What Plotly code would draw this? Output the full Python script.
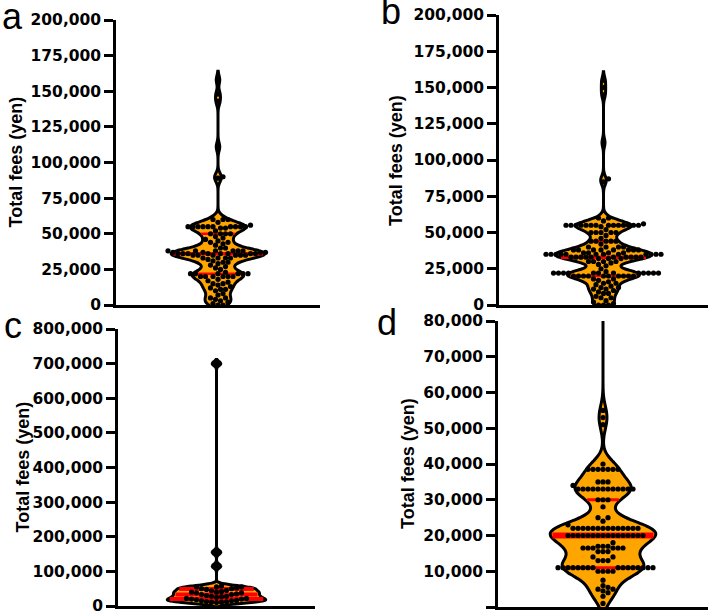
import numpy as np
import plotly.graph_objects as go

fees_a = [0, 0, 1000, 2000, 3000, 4000, 5000, 5000, 7000, 8000, 10000,
          11000, 11000, 12000, 13000, 14000, 15000, 15000, 16000, 17000, 18000,
          20000, 20000, 20000, 20000, 20000, 20000,
          22000, 22000, 22000, 22000, 22000, 22000, 23000,
          25000, 26000, 27000, 28000, 29000, 30000, 30000, 31000, 32000,
          33000, 33000, 33000, 33000,
          35000, 35000, 35000, 35000, 35000, 35000,
          36000, 36000, 36000, 36000, 36000, 36000, 36000, 36000,
          37000, 37000, 37000, 37000, 38000, 38000, 38000, 38000, 38000, 38000,
          40000, 40000, 42000, 43000, 44000, 44000, 45000, 46000, 47000, 48000,
          50000, 50000, 50000, 50000, 52000, 54000, 54000,
          55000, 55000, 55000, 55000, 55000, 55000, 55000, 55000, 55000, 55000,
          56000, 58000, 60000, 60000, 60000,
          89000, 90000, 111000, 143000, 148000, 158000]

fees_b = [0, 0, 0, 1000, 2000, 3000, 5000, 5000, 6000, 8000, 8000, 9000, 10000,
          11000, 11000, 12000, 12000, 13000, 14000, 15000, 15000, 16000, 17000, 18000, 18000,
          20000, 20000, 20000, 20000, 20000, 20000, 20000, 20000, 20000, 20000,
          22000, 22000, 22000, 22000, 22000, 22000, 22000, 22000, 22000, 22000, 22000, 22000,
          23000, 25000, 27000, 28000, 29000, 30000, 30000, 30000, 30000,
          32000, 32000, 32000,
          33000, 33000, 33000, 33000, 33000, 33000, 33000, 33000, 33000, 33000,
          35000, 35000, 35000, 35000, 35000, 35000, 35000, 35000, 35000, 35000, 35000, 35000,
          36000, 36000, 36000, 36000,
          38000, 38000, 38000, 38000, 38000, 38000, 38000, 38000,
          40000, 40000, 40000, 40000, 42000,
          44000, 44000, 44000, 44000, 44000, 46000, 48000,
          50000, 50000, 50000, 50000, 50000, 52000, 54000,
          55000, 55000, 55000, 55000, 55000, 55000, 55000, 55000, 55000, 55000, 55000, 55000, 55000, 55000,
          56000, 58000, 60000, 60000, 85000, 87000, 112000, 145000, 150000, 155000]

fees_c = [10000, 11000, 11000, 12000, 13000, 15000, 15000, 16000, 18000, 20000, 20000,
          22000, 22000, 25000, 27000, 28000, 28000, 30000, 33000, 33000, 35000,
          38000, 38000, 40000, 40000, 42000, 44000, 45000, 48000, 50000, 50000,
          52000, 55000, 55000, 55000, 58000, 115000, 155000, 700000]

fees_d = [1000, 3000, 4000, 4500, 5000, 5000, 5500, 6000, 7500,
          10000, 10000, 10000, 10000,
          11000, 11000, 11000, 11000, 11000, 11000, 11000, 11000,
          11000, 11000, 11000, 11000, 11000, 11000, 11000, 11000,
          13000, 13000, 13000, 14000, 14000, 15500, 15500, 15500,
          16500, 16500, 16500, 16500, 16500, 16500, 17000, 17000, 17000, 18000,
          20000, 20000, 20000, 20000, 20000, 20000, 20000, 20000,
          20000, 20000, 20000, 20000, 20000, 20000, 20000, 20000,
          22000, 22000, 22000, 22000, 22000, 22000, 22000,
          22000, 22000, 22000, 22000, 22000, 22000, 22000,
          23000, 24000, 25000, 25000, 28000, 30000, 30000, 30000,
          33000, 33000, 33000, 33000, 33000, 33000, 33000, 33000, 33000, 33000, 33000, 33000,
          34000, 35000, 35000, 35000,
          38500, 38500, 38500, 38500, 38500, 38500, 38500, 40000,
          51000, 53000, 55000, 95000]

W, H = 708, 616
ORANGE = "#FFA500"

# panel layout: pixel boxes of each plot area (left, right, top, bottom)
panels = [
    dict(letter="a", vals=fees_a, ymax=200000, dtick=25000, bw=3000, width=0.92,
         box=(116, 320, 20, 305), title_x=15, letter_xy=(12, 16), med=3.5, qw=2.5),
    dict(letter="b", vals=fees_b, ymax=200000, dtick=25000, bw=2900, width=0.92,
         box=(499, 708, 15, 305), title_x=396, letter_xy=(391, 12), med=3.5, qw=2.5),
    dict(letter="c", vals=fees_c, ymax=800000, dtick=100000, bw=6000, width=1.0,
         box=(118, 315, 329, 606), title_x=22, letter_xy=(13, 325), med=4, qw=4),
    dict(letter="d", vals=fees_d, ymax=80000, dtick=10000, bw=2600, width=1.0,
         box=(498, 708, 321, 607), title_x=408, letter_xy=(387, 322), med=6, qw=3),
]


def kde(vals, bw, t):
    v = np.asarray(vals, float)
    z = (np.atleast_1d(t)[:, None] - v[None, :]) / bw
    return np.exp(-0.5 * z * z).sum(1) / (len(v) * bw * np.sqrt(2 * np.pi))


def half_width(vals, bw, width, y):
    # same grid / scaling plotly uses for a violin with a fixed width
    lo, hi = min(vals) - 2 * bw, max(vals) + 2 * bw
    n = int(np.ceil((hi - lo) / (bw / 3)))
    dmax = kde(vals, bw, np.linspace(lo, hi, n + 1)).max()
    return width / 2 * kde(vals, bw, y) / dmax


def swarm(vals, px_x, px_y, d):
    # simple beeswarm: offsets in multiples of half a dot
    vals = np.asarray(vals, float)
    xs = np.zeros(len(vals))
    placed = []
    for i in np.argsort(vals, kind="stable"):
        yp = vals[i] * px_y
        near = [(px, py) for px, py in placed if abs(py - yp) < d]
        k = 0
        while True:
            cands = [0.0] if k == 0 else [k * d / 2, -k * d / 2]
            ok = [c for c in cands if all((c - px) ** 2 + (yp - py) ** 2 >= d * d * 0.98 for px, py in near)]
            if ok:
                xs[i] = ok[0] / px_x
                placed.append((ok[0], yp))
                break
            k += 1
    return xs


fig = go.Figure()
annotations = []
for i, p in enumerate(panels, start=1):
    sx = "" if i == 1 else str(i)
    l, r, t, b = p["box"]
    px_x = (r - l) / 2.0
    px_y = (b - t) / p["ymax"]
    vals = p["vals"]

    fig.add_trace(go.Violin(
        y=vals, x0=0, width=p["width"], bandwidth=p["bw"], points=False,
        fillcolor=ORANGE, line=dict(color="black", width=3), opacity=1,
        scalemode="width", hoverinfo="skip", showlegend=False,
        xaxis="x" + sx, yaxis="y" + sx))

    q1, q2, q3 = np.percentile(vals, [25, 50, 75])
    for q, lw in [(q1, p["qw"]), (q3, p["qw"]), (q2, p["med"])]:
        hw = half_width(vals, p["bw"], p["width"], q)[0] - 2.0 / px_x
        fig.add_trace(go.Scatter(
            x=[-hw, hw], y=[q, q], mode="lines", line=dict(color="#FF0000", width=lw),
            hoverinfo="skip", showlegend=False, xaxis="x" + sx, yaxis="y" + sx))

    fig.add_trace(go.Scatter(
        x=swarm(vals, px_x, px_y, 5.0), y=vals, mode="markers",
        marker=dict(color="black", size=5.2, line=dict(width=0)),
        showlegend=False, xaxis="x" + sx, yaxis="y" + sx))

    fig.layout["xaxis" + sx] = dict(
        domain=[l / W, r / W], anchor="y" + sx, range=[-1, 1], automargin=False,
        showline=True, linecolor="black", linewidth=2.5, ticks="",
        showticklabels=False, showgrid=False, zeroline=False, fixedrange=True)
    fig.layout["yaxis" + sx] = dict(
        domain=[(H - b) / H, (H - t) / H], anchor="x" + sx, range=[0, p["ymax"]],
        automargin=False,
        tick0=0, dtick=p["dtick"], tickformat=",d", ticks="outside", ticklen=9,
        tickwidth=2.5, tickcolor="black", showline=True, linecolor="black",
        linewidth=2.5, showgrid=False, zeroline=False, fixedrange=True,
        tickfont=dict(family="DejaVu Sans", size=15.5, color="black", weight="bold"))

    annotations.append(dict(
        text="Total fees (yen)", textangle=-90, showarrow=False,
        xref="paper", yref="paper", x=p["title_x"] / W, y=1 - (t + b) / 2 / H,
        xanchor="center", yanchor="middle",
        font=dict(family="Liberation Sans", size=18, color="black", weight="bold")))
    lx, ly = p["letter_xy"]
    annotations.append(dict(
        text=p["letter"], showarrow=False, xref="paper", yref="paper",
        x=lx / W, y=1 - ly / H, xanchor="center", yanchor="middle",
        font=dict(family="Liberation Sans", size=36, color="black")))

fig.update_layout(
    template="none",
    width=W, height=H, margin=dict(l=0, r=0, t=0, b=0, autoexpand=False),
    paper_bgcolor="white", plot_bgcolor="white",
    violinmode="overlay", annotations=annotations)

fig.write_html(
    "out.html",
    config={"displayModeBar": False, "responsive": False},
    post_script="document.documentElement.style.margin='0';"
                "document.body.style.margin='0';document.body.style.overflow='hidden';")
